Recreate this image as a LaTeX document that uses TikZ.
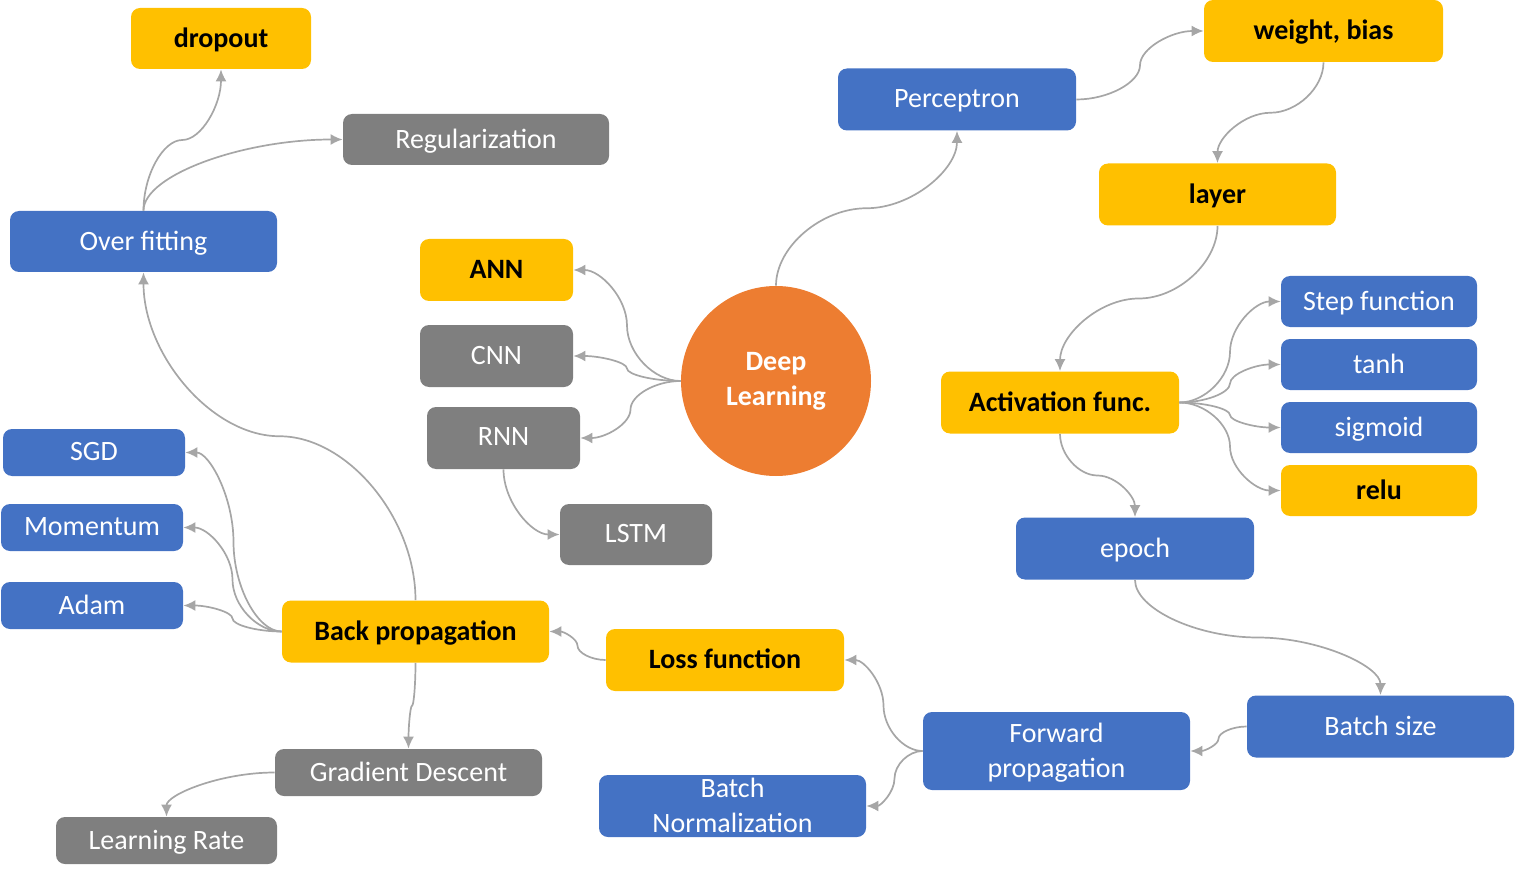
\documentclass[tikz,border=0pt]{standalone}
\usepackage{fontspec}
\setmainfont{Carlito}
\usetikzlibrary{arrows.meta,calc}

\definecolor{dlblue}{HTML}{4472C4}
\definecolor{dlgold}{HTML}{FFC000}
\definecolor{dlgray}{HTML}{7F7F7F}
\definecolor{dlorange}{HTML}{ED7D31}
\definecolor{dllink}{HTML}{A6A6A6}

\begin{document}
\begin{tikzpicture}[x=0.5pt,y=-0.5pt,>={Latex[length=6pt,width=5.5pt]},
  box/.style={rounded corners=4.5pt,minimum height=31pt,align=center,inner sep=1pt,text depth=1pt,font=\fontsize{14}{17.5}\selectfont},
  bluebox/.style={box,fill=dlblue,text=white},
  goldbox/.style={box,fill=dlgold,text=black,font=\fontsize{14}{17.5}\selectfont\bfseries},
  graybox/.style={box,fill=dlgray,text=white},
  hub/.style={circle,fill=dlorange,text=white,minimum size=95pt,align=center,inner sep=0pt,font=\fontsize{14}{17.5}\selectfont\bfseries},
  link/.style={->,draw=dllink,line width=0.85pt},
  hcurve/.style={to path={let \p1=(\tikztostart),\p2=(\tikztotarget) in
    .. controls ({.75*\x1+.25*\x2},\y1) and ({.5*\x1+.5*\x2},{.75*\y1+.25*\y2})
    .. ({.5*\x1+.5*\x2},{.5*\y1+.5*\y2})
    .. controls ({.5*\x1+.5*\x2},{.25*\y1+.75*\y2}) and ({.25*\x1+.75*\x2},\y2)
    .. (\p2)}},
  vcurve/.style={to path={let \p1=(\tikztostart),\p2=(\tikztotarget) in
    .. controls (\x1,{.75*\y1+.25*\y2}) and ({.75*\x1+.25*\x2},{.5*\y1+.5*\y2})
    .. ({.5*\x1+.5*\x2},{.5*\y1+.5*\y2})
    .. controls ({.25*\x1+.75*\x2},{.5*\y1+.5*\y2}) and (\x2,{.25*\y1+.75*\y2})
    .. (\p2)}},
  hvcorner/.style={to path={let \p1=(\tikztostart),\p2=(\tikztotarget) in
    .. controls ({.5*\x1+.5*\x2},\y1) and (\x2,{.5*\y1+.5*\y2}) .. (\p2)}},
  vhcorner/.style={to path={let \p1=(\tikztostart),\p2=(\tikztotarget) in
    .. controls (\x1,{.5*\y1+.5*\y2}) and ({.5*\x1+.5*\x2},\y2) .. (\p2)}}]
\useasboundingbox (0,0) rectangle (1515,877);

% centre
\node[hub] (dl) at (776,381) {Deep\\Learning};

% network types
\node[goldbox,minimum width=76.5pt] (ann) at (496.5,270) {ANN};
\node[graybox,minimum width=76.5pt] (cnn) at (496.5,356) {CNN};
\node[graybox,minimum width=76.5pt] (rnn) at (503.5,438) {RNN};
\node[graybox,minimum width=76pt,minimum height=30.5pt] (lstm) at (636,534.5) {LSTM};

% upper right branch
\node[bluebox,minimum width=119pt] (per) at (957,99.5) {Perceptron};
\node[goldbox,minimum width=119.5pt] (wb) at (1323.5,31) {weight, bias};
\node[goldbox,minimum width=118.5pt] (layer) at (1217.5,194.5) {layer};
\node[goldbox,minimum width=119pt] (act) at (1060,402.5) {Activation func.};
\node[bluebox,minimum width=98pt,minimum height=25.5pt] (stepf) at (1379,301.5) {Step function};
\node[bluebox,minimum width=98pt,minimum height=25.5pt] (tanh) at (1379,364.5) {tanh};
\node[bluebox,minimum width=98pt,minimum height=25.5pt] (sigm) at (1379,427.5) {sigmoid};
\node[goldbox,minimum width=98pt,minimum height=25.5pt] (relu) at (1379,490.5) {relu};
\node[bluebox,minimum width=119pt] (epoch) at (1135,548.5) {epoch};
\node[bluebox,minimum width=133.5pt] (bsize) at (1380.5,726.5) {Batch size};
\node[bluebox,minimum width=133.5pt,minimum height=39pt] (fwd) at (1056.5,751) {Forward\\propagation};
\node[bluebox,minimum width=133.5pt] (bnorm) at (732.5,806) {Batch\\Normalization};
\node[goldbox,minimum width=119pt] (loss) at (725,660) {Loss function};

% lower left branch
\node[goldbox,minimum width=133.5pt] (bp) at (415.5,631.5) {Back propagation};
\node[bluebox,minimum width=91pt,minimum height=23.5pt] (sgd) at (94,452.5) {SGD};
\node[bluebox,minimum width=91pt,minimum height=23.5pt] (mom) at (92,527.5) {Momentum};
\node[bluebox,minimum width=91pt,minimum height=23.5pt] (adam) at (92,605.5) {Adam};
\node[graybox,minimum width=133.5pt,minimum height=23.5pt] (gd) at (408.5,772.5) {Gradient Descent};
\node[graybox,minimum width=110.5pt,minimum height=23.5pt] (lr) at (166.5,840.5) {Learning Rate};
\node[bluebox,minimum width=133.5pt,minimum height=30.5pt] (over) at (143.5,241.5) {Over fitting};
\node[goldbox,minimum width=90pt,minimum height=30.5pt] (dropout) at (221,38.5) {dropout};
\node[graybox,minimum width=133pt,minimum height=25.5pt] (reg) at (476,139.5) {Regularization};

% links
\draw[link] (dl.west) to[hcurve] (ann.east);
\draw[link] (dl.west) to[hcurve] (cnn.east);
\draw[link] (dl.west) to[hcurve] (rnn.east);
\draw[link] (rnn.south) to[vhcorner] (lstm.west);
\draw[link] (dl.north) to[vcurve] (per.south);
\draw[link] (per.east) to[hcurve] (wb.west);
\draw[link] (wb.south) to[vcurve] (layer.north);
\draw[link] (layer.south) to[vcurve] (act.north);
\draw[link] (act.east) to[hcurve] (stepf.west);
\draw[link] (act.east) to[hcurve] (tanh.west);
\draw[link] (act.east) to[hcurve] (sigm.west);
\draw[link] (act.east) to[hcurve] (relu.west);
\draw[link] (act.south) to[vcurve] (epoch.north);
\draw[link] (epoch.south) to[vcurve] (bsize.north);
\draw[link] (bsize.west) to[hcurve] (fwd.east);
\draw[link] (fwd.west) to[hcurve] (loss.east);
\draw[link] (fwd.west) to[hcurve] (bnorm.east);
\draw[link] (loss.west) to[hcurve] (bp.east);
\draw[link] (bp.west) to[hcurve] (sgd.east);
\draw[link] (bp.west) to[hcurve] (mom.east);
\draw[link] (bp.west) to[hcurve] (adam.east);
\draw[link] (bp.south) to[vcurve] (gd.north);
\draw[link] (gd.west) to[hvcorner] (lr.north);
\draw[link] (bp.north) to[vcurve] (over.south);
\draw[link] (over.north) to[vcurve] (dropout.south);
\draw[link] (over.north) to[vhcorner] (reg.west);
\end{tikzpicture}
\end{document}
